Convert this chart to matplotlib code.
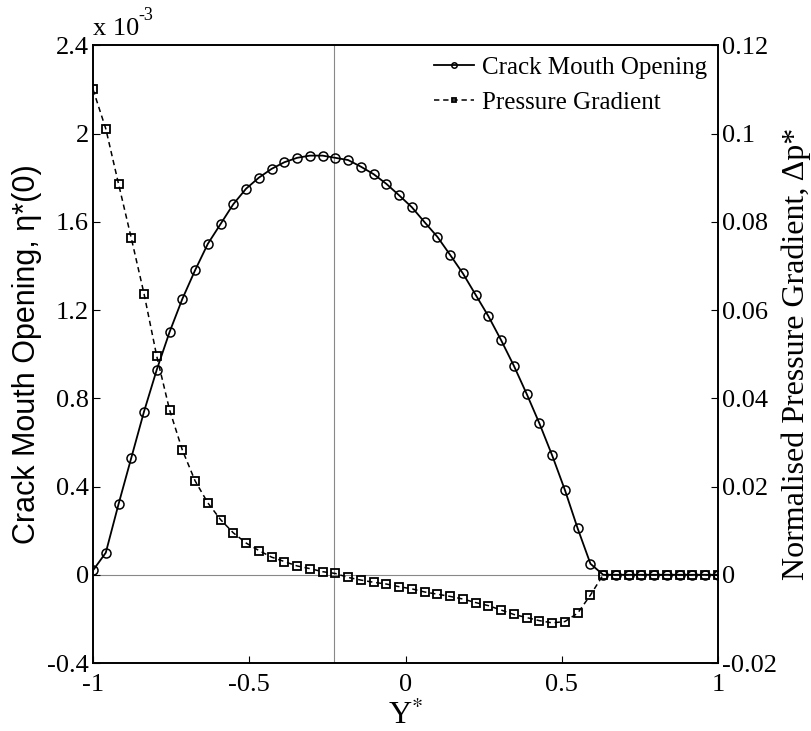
import numpy as np
import matplotlib
matplotlib.use('Agg')
import matplotlib.pyplot as plt
from matplotlib.ticker import FuncFormatter

plt.rcParams['font.family'] = 'Liberation Serif'
plt.rcParams['axes.unicode_minus'] = False
plt.rcParams['mathtext.fontset'] = 'stix'

# normalised crack position, 50 evaluation points across the plate
y_star = np.linspace(-1, 1, 50)

# crack mouth opening (x 1e-3)
cmo_e3 = [0.02, 0.10, 0.32, 0.53, 0.74, 0.93, 1.10, 1.25, 1.38, 1.50,
          1.59, 1.68, 1.75, 1.80, 1.84, 1.87, 1.89, 1.90, 1.90, 1.89,
          1.88, 1.85, 1.816, 1.772, 1.720, 1.666, 1.598, 1.532, 1.450, 1.366,
          1.269, 1.172, 1.063, 0.947, 0.820, 0.686, 0.541, 0.384, 0.210, 0.050,
          0.0, 0.0, 0.0, 0.0, 0.0, 0.0, 0.0, 0.0, 0.0, 0.0]

# normalised pressure gradient
dp = [0.1100, 0.1011, 0.0886, 0.0763, 0.0637, 0.0495, 0.0374, 0.0283, 0.0213, 0.0163,
      0.0125, 0.0095, 0.0072, 0.0055, 0.0040, 0.0030, 0.0020, 0.0014, 0.0007, 0.0003,
      -0.0006, -0.0012, -0.0017, -0.0021, -0.0027, -0.0032, -0.0039, -0.0044, -0.0049, -0.0055,
      -0.0063, -0.0070, -0.0080, -0.0090, -0.0097, -0.0104, -0.0109, -0.0106, -0.0087, -0.0046,
      0.0, 0.0, 0.0, 0.0, 0.0, 0.0, 0.0, 0.0, 0.0, 0.0]

x_marker = -0.228

fig = plt.figure(figsize=(8.11, 7.31), dpi=100)
ax = fig.add_axes([0.1147, 0.093, 0.7706, 0.845])
ax2 = ax.twinx()

ax.axhline(0, color='#888888', lw=0.8, zorder=0)
ax.axvline(x_marker, color='#888888', lw=0.8, zorder=0)

l1, = ax.plot(y_star, cmo_e3, '-o', color='k', lw=1.3, ms=6.5, mfc='none',
              mew=1.1, label='Crack Mouth Opening')
l2, = ax2.plot(y_star, dp, '--s', color='k', lw=1.1, ms=6, mfc='none',
               mew=1.3, dashes=(3.5, 2.5), label='Pressure Gradient')

ax.set_xlim(-1, 1)
ax.set_ylim(-0.4, 2.4)
ax2.set_ylim(-0.02, 0.12)
ax.set_xticks([-1, -0.5, 0, 0.5, 1])
ax.set_yticks(np.arange(-0.4, 2.41, 0.4))
ax2.set_yticks(np.arange(-0.02, 0.121, 0.02))
ax.xaxis.set_major_formatter(FuncFormatter(lambda v, p: '%g' % round(v, 3)))
ax.yaxis.set_major_formatter(FuncFormatter(lambda v, p: '%g' % round(v, 3)))
ax2.yaxis.set_major_formatter(FuncFormatter(lambda v, p: '%g' % round(v, 4)))

for a in (ax, ax2):
    a.tick_params(direction='in', length=5, width=0.8, labelsize=19)
    for s in a.spines.values():
        s.set_linewidth(1.2)
ax.tick_params(axis='x', pad=8)
ax.tick_params(axis='y', pad=3)
ax2.tick_params(axis='y', pad=3)

# exponent written out by hand so the minus stays a plain hyphen
ax.text(0.0, 1.008, 'x 10', transform=ax.transAxes, fontsize=19,
        ha='left', va='bottom')
ax.text(0.072, 1.035, '-3', transform=ax.transAxes, fontsize=13,
        ha='left', va='bottom')

ax.set_xlabel(r'Y$^{*}$', fontsize=23, labelpad=3)
ax.set_ylabel('Crack Mouth Opening, \u03b7*(0)', fontsize=22,
              family='Liberation Sans', labelpad=4)
ax2.set_ylabel('Normalised Pressure Gradient, \u0394p*', fontsize=23,
               labelpad=3)

ax.legend([l1, l2], [l1.get_label(), l2.get_label()], loc='upper right',
          frameon=False, fontsize=18, handlelength=1.6, handletextpad=0.3,
          markerscale=0.6, borderaxespad=0.05, labelspacing=0.5)

fig.savefig('out.png', dpi=100)
